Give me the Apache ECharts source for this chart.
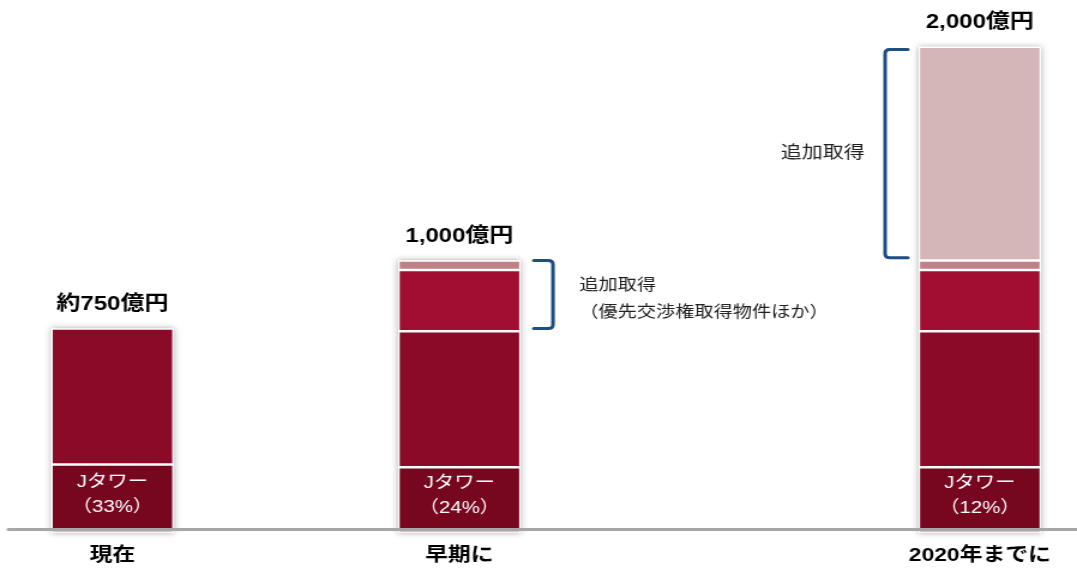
<!DOCTYPE html>
<html>
<head>
<meta charset="utf-8">
<script src="https://cdn.jsdelivr.net/npm/echarts@6/dist/echarts.min.js"></script>
<style>
  html, body { margin: 0; padding: 0; background: #fff; overflow: hidden; }
  /* the slide artwork is drawn narrow and widened horizontally */
  #chart { width: 898px; height: 568px; transform: scaleX(1.1993); transform-origin: 0 0; }
</style>
</head>
<body>
<div id="chart"></div>
<script>
// ---- data (億円) ----
const categories = ['現在', '早期に', '2020年までに'];
const slots = [0, 2, 5];                 // column slot of each stage on the x axis
const jTower = [250, 240, 240];          // Jタワー
const existing = [500, 500, 500];        // other current holdings
const priority = [null, 225, 225];       // 優先交渉権取得物件
const otherAdds = [null, 35, 35];        // その他の追加取得
const laterAdds = [null, null, 1000];    // 2020年までの追加取得
const totalPrefix = ['約', '', ''];

// brackets: slot, value range covered, note text
const bracketSlots = [2, 5];
const bracketFrom = [750, 1010];
const bracketTo = [1000, 1990];
const bracketNotes = [['追加取得', '（優先交渉権取得物件ほか）'], ['追加取得']];

// ---- derived ----
const segments = [jTower, existing, priority, otherAdds, laterAdds];
const totals = slots.map((_, i) => segments.reduce((s, arr) => s + (arr[i] || 0), 0));

// ---- styling ----
const FONT = "'Liberation Sans', 'Noto Sans CJK JP', sans-serif";
const BAR_W = 102;
const segColors = ['#77061f', '#8b0a28', '#a20e31', '#bf8088', '#d4b6b9'];
const bracketLayout = [
  { side: 1, gap: 27, arm: 16, textGap: 22, shift: 5, fontSize: 16, lineHeight: 27 },
  { side: -1, gap: 28, arm: 19, textGap: 17, shift: 0, fontSize: 17.5, lineHeight: 27 }
];

// value first so that stacking runs on the value dimension; slot mapped to x
const pairs = arr => slots.map((s, i) => [arr[i], s]);

const chart = echarts.init(document.getElementById('chart'));

const segmentSeries = segments.map((arr, k) => ({
  type: 'bar',
  stack: 'stage',
  barWidth: BAR_W,
  barGap: '-100%',
  data: pairs(arr),
  encode: { x: 1, y: 0 },
  itemStyle: { color: segColors[k], borderColor: '#fff', borderWidth: 1.2 },
  label: k === 0 ? {
    show: true,
    position: 'inside',
    offset: [0, -4],
    color: '#fff',
    fontFamily: FONT,
    fontSize: 17,
    lineHeight: 25,
    formatter: p => 'Jタワー\n（' + Math.round(jTower[p.dataIndex] / totals[p.dataIndex] * 100) + '%）'
  } : { show: false },
  emphasis: { disabled: true },
  silent: true
}));

chart.setOption({
  animation: false,
  backgroundColor: '#fff',
  grid: { left: 7, right: 0, top: 46.7, bottom: 35.5, outerBoundsMode: 'none' },
  xAxis: {
    type: 'value',
    min: -0.6,
    max: 5.56,
    z: 10,
    offset: -3.5,
    splitLine: { show: false },
    axisTick: { show: false },
    axisLine: { show: true, onZero: false, lineStyle: { color: '#a6a6a6', width: 3 } },
    axisLabel: {
      customValues: slots,
      formatter: v => categories[slots.indexOf(v)] || '',
      margin: 17,
      color: '#000',
      fontFamily: FONT,
      fontWeight: 'bold',
      fontSize: 19
    }
  },
  yAxis: {
    type: 'value',
    min: 0,
    max: 2000,
    show: false,
    splitLine: { show: false },
    breaks: [{ start: 1300, end: 1514, gap: 0 }],
    breakArea: { show: false }
  },
  series: [
    {
      // white backing with a soft shadow, carrying the stage total
      type: 'bar',
      barWidth: BAR_W,
      barGap: '-100%',
      data: pairs(totals),
      encode: { x: 1, y: 0 },
      itemStyle: { color: '#fff', shadowBlur: 6, shadowColor: 'rgba(0,0,0,0.32)' },
      label: {
        show: true,
        position: 'top',
        distance: 14,
        color: '#000',
        fontFamily: FONT,
        fontWeight: 'bold',
        fontSize: 20,
        formatter: p => totalPrefix[p.dataIndex] + totals[p.dataIndex].toLocaleString('en-US') + '億円'
      },
      emphasis: { disabled: true },
      silent: true
    },
    ...segmentSeries,
    {
      type: 'custom',
      coordinateSystem: 'cartesian2d',
      silent: true,
      z: 5,
      data: bracketSlots.map((s, i) => [s, bracketFrom[i], bracketTo[i]]),
      encode: { x: 0, y: [1, 2] },
      renderItem: (params, api) => {
        const i = params.dataIndex;
        const L = bracketLayout[i];
        const hi = api.coord([bracketSlots[i], bracketTo[i]]);
        const lo = api.coord([bracketSlots[i], bracketFrom[i]]);
        const d = L.side;
        const xv = hi[0] + d * (BAR_W / 2 + L.gap);
        const xe = xv - d * L.arm;
        const r = 4;
        const y1 = hi[1], y2 = lo[1];
        const path = `M${xe} ${y1} L${xv - d * r} ${y1} Q${xv} ${y1} ${xv} ${y1 + r} ` +
                     `L${xv} ${y2 - r} Q${xv} ${y2} ${xv - d * r} ${y2} L${xe} ${y2}`;
        return {
          type: 'group',
          children: [
            { type: 'path', shape: { pathData: path },
              style: { stroke: '#1f4e85', lineWidth: 3, fill: null, lineCap: 'round', lineJoin: 'round' } },
            { type: 'text',
              style: {
                text: bracketNotes[i].join('\n'),
                x: xv + d * L.textGap,
                y: (y1 + y2) / 2 + L.shift,
                align: d > 0 ? 'left' : 'right',
                verticalAlign: 'middle',
                fill: '#222',
                fontFamily: FONT,
                fontSize: L.fontSize,
                lineHeight: L.lineHeight
              } }
          ]
        };
      }
    }
  ]
});
</script>
</body>
</html>
